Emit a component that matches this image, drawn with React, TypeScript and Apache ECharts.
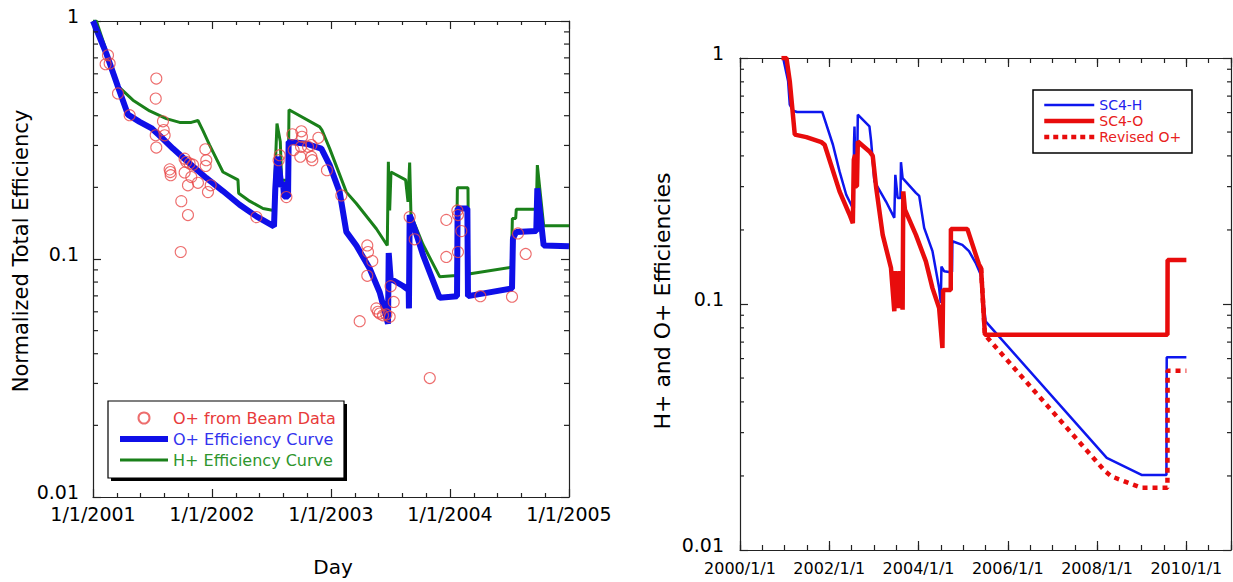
import React, { useEffect, useRef } from 'react';
import * as echarts from 'echarts';

const FONT = 'DejaVu Sans';

// ---- Left panel data (year, efficiency) ----
const oBeamData: [number, number][] = [
  [2001.126, 0.718], [2001.14, 0.663], [2001.106, 0.658], [2001.21, 0.496], [2001.532, 0.573],
  [2001.527, 0.472], [2001.308, 0.402], [2001.588, 0.379], [2001.594, 0.348], [2001.527, 0.331],
  [2001.602, 0.331], [2001.532, 0.294], [2001.944, 0.289], [2001.77, 0.264], [2001.784, 0.256],
  [2001.812, 0.252], [2001.84, 0.249], [2001.952, 0.26], [2001.947, 0.246], [2001.644, 0.238],
  [2001.65, 0.232], [2001.653, 0.225], [2001.77, 0.231], [2001.826, 0.221], [2001.882, 0.209],
  [2001.798, 0.204], [2001.989, 0.204], [2001.966, 0.191], [2001.742, 0.175], [2001.798, 0.153],
  [2001.737, 0.107], [2002.373, 0.15], [2002.569, 0.273], [2002.56, 0.26], [2002.625, 0.182],
  [2002.675, 0.334], [2002.751, 0.344], [2002.756, 0.326], [2002.686, 0.287], [2002.748, 0.296],
  [2002.807, 0.296], [2002.742, 0.269], [2002.835, 0.269], [2002.843, 0.26], [2002.894, 0.323],
  [2002.835, 0.301], [2002.966, 0.236], [2003.087, 0.185], [2003.305, 0.114], [2003.311, 0.107],
  [2003.347, 0.098], [2003.305, 0.085], [2003.241, 0.0548], [2003.381, 0.062], [2003.395, 0.06],
  [2003.409, 0.059], [2003.437, 0.058], [2003.465, 0.0585], [2003.501, 0.0769], [2003.527, 0.066],
  [2003.493, 0.0572], [2003.661, 0.15], [2003.703, 0.121], [2003.969, 0.146], [2003.969, 0.102],
  [2004.062, 0.16], [2004.067, 0.153], [2004.095, 0.131], [2004.067, 0.107], [2004.255, 0.0698],
  [2004.521, 0.0694], [2004.571, 0.128], [2004.636, 0.105], [2003.83, 0.0316],
];

const oEffCurve: [number, number][] = [
  [2001.0, 1.0], [2001.112, 0.73], [2001.21, 0.529], [2001.294, 0.404], [2001.392, 0.377],
  [2001.49, 0.355], [2001.588, 0.32], [2001.672, 0.291], [2001.812, 0.252], [2001.952, 0.219],
  [2002.092, 0.193], [2002.232, 0.169], [2002.373, 0.151], [2002.521, 0.137], [2002.532, 0.198],
  [2002.549, 0.269], [2002.569, 0.232], [2002.583, 0.201], [2002.597, 0.21], [2002.605, 0.183],
  [2002.639, 0.183], [2002.644, 0.311], [2002.793, 0.305], [2002.919, 0.291], [2002.989, 0.248],
  [2003.073, 0.191], [2003.129, 0.13], [2003.213, 0.114], [2003.325, 0.0912], [2003.409, 0.0725],
  [2003.479, 0.0535], [2003.485, 0.106], [2003.501, 0.0826], [2003.606, 0.077], [2003.653, 0.074],
  [2003.655, 0.062], [2003.661, 0.153], [2003.703, 0.134], [2003.773, 0.104], [2003.913, 0.0687],
  [2004.059, 0.0698], [2004.064, 0.163], [2004.146, 0.163], [2004.151, 0.0698], [2004.521, 0.0752],
  [2004.529, 0.122], [2004.557, 0.13], [2004.725, 0.131], [2004.734, 0.198], [2004.787, 0.114],
  [2005.0, 0.113],
];

const hEffCurve: [number, number][] = [
  [2001.0, 1.0], [2001.028, 1.0], [2001.21, 0.533], [2001.336, 0.465], [2001.476, 0.419],
  [2001.616, 0.389], [2001.728, 0.375], [2001.826, 0.375], [2001.882, 0.382], [2001.924, 0.346],
  [2001.98, 0.301], [2002.092, 0.232], [2002.218, 0.215], [2002.224, 0.189], [2002.317, 0.175],
  [2002.429, 0.163], [2002.518, 0.16], [2002.546, 0.371], [2002.574, 0.311], [2002.585, 0.214],
  [2002.641, 0.214], [2002.647, 0.424], [2002.905, 0.359], [2002.924, 0.348], [2002.989, 0.291],
  [2003.129, 0.191], [2003.213, 0.171], [2003.381, 0.134], [2003.473, 0.114], [2003.482, 0.256],
  [2003.493, 0.16], [2003.504, 0.232], [2003.627, 0.215], [2003.647, 0.174], [2003.661, 0.254],
  [2003.672, 0.153], [2003.773, 0.115], [2003.913, 0.0843], [2004.053, 0.0852], [2004.062, 0.199],
  [2004.151, 0.199], [2004.157, 0.0865], [2004.515, 0.0923], [2004.524, 0.148], [2004.552, 0.148],
  [2004.557, 0.162], [2004.725, 0.162], [2004.734, 0.248], [2004.787, 0.138], [2005.0, 0.138],
];

// ---- Right panel data (year, efficiency) ----
const sc4H: [number, number][] = [
  [2000.967, 1.0], [2001.078, 0.804], [2001.115, 0.646], [2001.19, 0.61], [2001.279, 0.603],
  [2001.844, 0.603], [2002.082, 0.444], [2002.23, 0.346], [2002.38, 0.278], [2002.528, 0.245],
  [2002.55, 0.245], [2002.553, 0.444], [2002.565, 0.527], [2002.58, 0.392], [2002.628, 0.392],
  [2002.639, 0.588], [2002.9, 0.527], [2002.937, 0.46], [2003.011, 0.315], [2003.271, 0.261],
  [2003.457, 0.224], [2003.47, 0.224], [2003.48, 0.335], [2003.532, 0.27], [2003.595, 0.27],
  [2003.606, 0.377], [2003.643, 0.325], [2003.941, 0.283], [2004.015, 0.275], [2004.126, 0.204],
  [2004.312, 0.164], [2004.461, 0.116], [2004.498, 0.101], [2004.513, 0.142], [2004.572, 0.136],
  [2004.684, 0.135], [2004.75, 0.135], [2004.758, 0.18], [2004.981, 0.174], [2005.13, 0.164],
  [2005.279, 0.147], [2005.39, 0.132], [2005.44, 0.109], [2005.502, 0.085], [2008.216, 0.0237],
  [2008.996, 0.0202], [2009.554, 0.0202], [2009.56, 0.0607], [2010.0, 0.0607],
];

const sc4O: [number, number][] = [
  [2000.929, 1.0], [2001.041, 1.0], [2001.115, 0.804], [2001.227, 0.488], [2001.487, 0.477],
  [2001.822, 0.455], [2001.896, 0.444], [2002.23, 0.287], [2002.454, 0.231], [2002.528, 0.213],
  [2002.55, 0.386], [2002.58, 0.404], [2002.59, 0.301], [2002.62, 0.301], [2002.639, 0.458],
  [2002.9, 0.417], [2002.974, 0.4], [2003.048, 0.3], [2003.197, 0.191], [2003.383, 0.14],
  [2003.457, 0.0934], [2003.48, 0.136], [2003.554, 0.0963], [2003.584, 0.136], [2003.643, 0.0948],
  [2003.658, 0.287], [2003.695, 0.242], [2003.941, 0.191], [2004.164, 0.149], [2004.312, 0.116],
  [2004.461, 0.0963], [2004.535, 0.0662], [2004.55, 0.114], [2004.721, 0.114], [2004.725, 0.202],
  [2005.093, 0.202], [2005.353, 0.145], [2005.4, 0.14], [2005.487, 0.075], [2009.576, 0.075],
  [2009.58, 0.151], [2010.0, 0.151],
];

const revisedO: [number, number][] = [
  [2005.4, 0.14], [2005.487, 0.075], [2008.178, 0.0209], [2008.327, 0.0199], [2008.996, 0.0179],
  [2009.576, 0.0179], [2009.58, 0.0536], [2010.0, 0.0536],
];

const logMinorTicks = [0.02, 0.03, 0.04, 0.05, 0.06, 0.07, 0.08, 0.09, 0.2, 0.3, 0.4, 0.5, 0.6, 0.7, 0.8, 0.9];

const leftXRange = [2001, 2005];
const rightXRange = [2000, 2011];

const AX = '#222';

function xAxisDef(gridIndex: number, position: string, min: number, max: number, interval: number,
  tickLen: number, label: any, showLine: boolean, minor?: any) {
  return {
    type: 'value', gridIndex, position, min, max, interval,
    axisLine: { show: showLine, onZero: false, lineStyle: { color: AX, width: 1.2 } },
    axisTick: { show: true, inside: true, length: tickLen, lineStyle: { color: AX, width: 1.2 } },
    minorTick: minor || { show: false },
    axisLabel: label || { show: false },
    splitLine: { show: false },
  };
}

function yAxisDef(gridIndex: number, position: string, label: any) {
  return {
    type: 'log', logBase: 10, gridIndex, position, min: 0.01, max: 1,
    axisLine: { show: true, onZero: false, lineStyle: { color: AX, width: 1.2 } },
    axisTick: { show: true, inside: true, length: 8, lineStyle: { color: AX, width: 1.2 } },
    axisLabel: label || { show: false },
    splitLine: { show: false },
    minorTick: { show: false },
  };
}

function minorTickSeries(xIdx: number, yIdx: number, range: number[], len: number) {
  return {
    type: 'custom', xAxisIndex: xIdx, yAxisIndex: yIdx, silent: true, clip: false, z: 5,
    data: logMinorTicks.map((v) => [range[0], v]),
    encode: { x: 0, y: 1 },
    renderItem: (_params: any, api: any) => {
      const v = api.value(1);
      const a = api.coord([range[0], v]);
      const b = api.coord([range[1], v]);
      const st = { stroke: AX, lineWidth: 1.2 };
      return {
        type: 'group',
        children: [
          { type: 'line', shape: { x1: a[0], y1: a[1], x2: a[0] + len, y2: a[1] }, style: st },
          { type: 'line', shape: { x1: b[0] - len, y1: b[1], x2: b[0], y2: b[1] }, style: st },
        ],
      };
    },
  };
}

const yLabelFmt = (v: number) => String(Number(Number(v).toPrecision(3)));
const noSymbol = { opacity: 0 };

export default function App() {
  const ref = useRef<HTMLDivElement>(null);
  useEffect(() => {
    const chart = echarts.init(ref.current!, null, { renderer: 'svg' });
    const leftXLabel = {
      show: true, margin: 7, fontSize: 19, fontFamily: FONT, color: '#000',
      formatter: (v: number) => `1/1/${Math.round(v)}`,
    };
    const rightXLabel = {
      show: true, margin: 10, fontSize: 16, fontFamily: FONT, color: '#000',
      formatter: (v: number) => (v <= 2010.01 ? `${Math.round(v)}/1/1` : ''),
    };
    const yLabel = (margin: number) => ({
      show: true, margin, fontSize: 19, fontFamily: FONT, color: '#000', formatter: yLabelFmt,
      verticalAlign: 'bottom', lineHeight: 10,
    });
    const leftMinor = { show: true, splitNumber: 5, length: 4, lineStyle: { color: AX, width: 1.2 } };
    const option: any = {
      animation: false,
      backgroundColor: '#fff',
      grid: [
        { left: 93, top: 21, width: 476, height: 476, containLabel: false, outerBoundsMode: 'none' },
        { left: 740, top: 58, width: 491, height: 492, containLabel: false, outerBoundsMode: 'none' },
      ],
      xAxis: [
        xAxisDef(0, 'bottom', leftXRange[0], leftXRange[1], 1, 8, leftXLabel, true, leftMinor),
        xAxisDef(0, 'top', leftXRange[0], leftXRange[1], 1, 8, null, true, leftMinor),
        xAxisDef(1, 'bottom', rightXRange[0], rightXRange[1], 2, 9, rightXLabel, true),
        xAxisDef(1, 'top', rightXRange[0], rightXRange[1], 2, 9, null, true),
        xAxisDef(1, 'bottom', rightXRange[0], rightXRange[1], 0.5, 5, null, false),
        xAxisDef(1, 'top', rightXRange[0], rightXRange[1], 0.5, 5, null, false),
      ],
      yAxis: [
        yAxisDef(0, 'left', yLabel(14)),
        yAxisDef(0, 'right', null),
        yAxisDef(1, 'left', yLabel(16)),
        yAxisDef(1, 'right', null),
      ],
      legend: [
        {
          left: 108, top: 401, orient: 'vertical', z: 10,
          itemWidth: 48, itemHeight: 11, itemGap: 5,
          padding: [9, 9, 9, 9],
          backgroundColor: 'transparent', borderWidth: 0,
          textStyle: { fontFamily: FONT, fontSize: 16 },
          selectedMode: false,
          data: [
            { name: 'O+ from Beam Data', textStyle: { color: '#e83a3a' } },
            { name: 'O+ Efficiency Curve', textStyle: { color: '#3333ee' }, itemStyle: noSymbol,
              lineStyle: { color: '#0f0fe8', width: 6 } },
            { name: 'H+ Efficiency Curve', textStyle: { color: '#2e962e' }, itemStyle: noSymbol,
              lineStyle: { color: '#1a801a', width: 3 } },
          ],
        },
        {
          left: 1033, top: 90, orient: 'vertical', z: 10,
          itemWidth: 50, itemHeight: 10, itemGap: 2,
          padding: [8, 9, 9, 9],
          backgroundColor: 'transparent', borderWidth: 0,
          textStyle: { fontFamily: FONT, fontSize: 14 },
          selectedMode: false,
          data: [
            { name: 'SC4-H', textStyle: { color: '#2222ee' }, itemStyle: noSymbol,
              lineStyle: { color: '#0d16ee', width: 2.5 } },
            { name: 'SC4-O', textStyle: { color: '#e82020' }, itemStyle: noSymbol,
              lineStyle: { color: '#e80c0c', width: 4.5 } },
            { name: 'Revised O+', textStyle: { color: '#e82020' }, itemStyle: noSymbol,
              lineStyle: { color: '#e80c0c', width: 4.5, type: [5, 4] } },
          ],
        },
      ],
      graphic: [
        {
          type: 'rect', z: 6, silent: true,
          shape: { x: 111, y: 404, width: 236, height: 77 },
          style: { fill: '#000' },
        },
        {
          type: 'rect', z: 7, silent: true,
          shape: { x: 108, y: 401, width: 236, height: 77 },
          style: { fill: '#fff', stroke: '#000', lineWidth: 1.2 },
        },
        {
          type: 'rect', z: 7, silent: true,
          shape: { x: 1033, y: 90, width: 159, height: 63 },
          style: { fill: '#fff', stroke: '#000', lineWidth: 1.5 },
        },
        {
          type: 'text', x: 21, y: 251, rotation: Math.PI / 2,
          style: { text: 'Normalized Total Efficiency', fontSize: 21, fontFamily: FONT, fill: '#000', align: 'center', verticalAlign: 'middle' },
        },
        {
          type: 'text', x: 333, y: 567,
          style: { text: 'Day', fontSize: 20, fontFamily: FONT, fill: '#000', align: 'center', verticalAlign: 'middle' },
        },
        {
          type: 'text', x: 662, y: 301, rotation: Math.PI / 2,
          style: { text: 'H+ and O+ Efficiencies', fontSize: 22, fontFamily: FONT, fill: '#000', align: 'center', verticalAlign: 'middle' },
        },
      ],
      series: [
        {
          name: 'H+ Efficiency Curve', type: 'line', xAxisIndex: 0, yAxisIndex: 0, data: hEffCurve,
          symbol: 'none', showSymbol: false, color: '#1a801a',
          lineStyle: { color: '#1a801a', width: 3 }, z: 2,
        },
        {
          name: 'O+ Efficiency Curve', type: 'line', xAxisIndex: 0, yAxisIndex: 0, data: oEffCurve,
          symbol: 'none', showSymbol: false, color: '#0f0fe8',
          lineStyle: { color: '#0f0fe8', width: 6 }, z: 3,
        },
        {
          name: 'O+ from Beam Data', type: 'scatter', xAxisIndex: 0, yAxisIndex: 0, data: oBeamData,
          symbol: 'circle', symbolSize: 11,
          itemStyle: { color: 'rgba(0,0,0,0)', borderColor: '#e84a4a', borderWidth: 1.1 }, z: 4,
        },
        {
          name: 'SC4-H', type: 'line', xAxisIndex: 2, yAxisIndex: 2, data: sc4H,
          symbol: 'none', showSymbol: false, color: '#0d16ee',
          lineStyle: { color: '#0d16ee', width: 2.5 }, z: 2,
        },
        {
          name: 'Revised O+', type: 'line', xAxisIndex: 2, yAxisIndex: 2, data: revisedO,
          symbol: 'none', showSymbol: false, color: '#e80c0c',
          lineStyle: { color: '#e80c0c', width: 4.5, type: [5, 5] }, z: 3,
        },
        {
          name: 'SC4-O', type: 'line', xAxisIndex: 2, yAxisIndex: 2, data: sc4O,
          symbol: 'none', showSymbol: false, color: '#e80c0c',
          lineStyle: { color: '#e80c0c', width: 4.5 }, z: 4,
        },
        minorTickSeries(0, 0, leftXRange, 5),
        minorTickSeries(2, 2, rightXRange, 4),
      ],
    };
    chart.setOption(option);
    return () => chart.dispose();
  }, []);
  return <div ref={ref} style={{ position: 'absolute', left: 0, top: 0, width: 1233, height: 582 }} />;
}
